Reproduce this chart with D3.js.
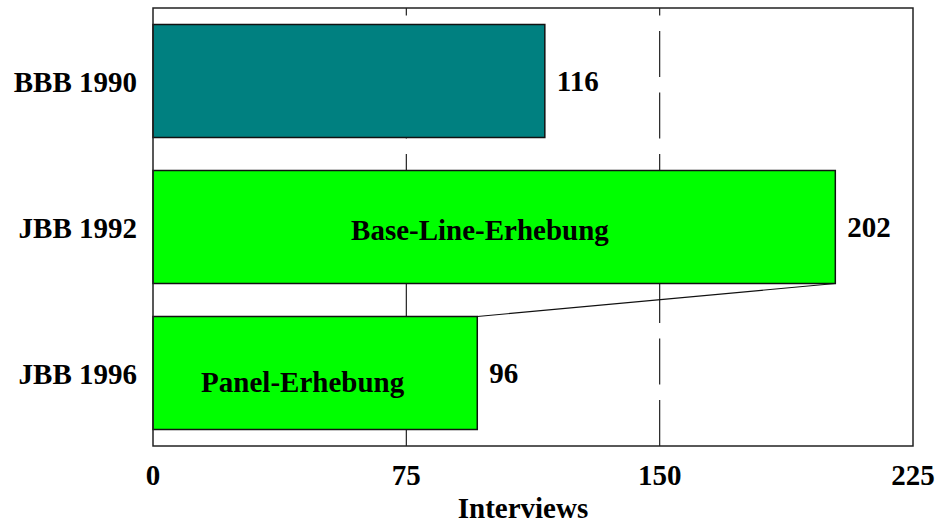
<!DOCTYPE html>
<html>
<head>
<meta charset="utf-8">
<script src="https://cdn.jsdelivr.net/npm/d3@7"></script>
<style>
  body { margin: 0; background: #fff; }
  text { font-family: "Liberation Serif", "Times New Roman", serif; font-weight: bold; fill: #000; }
</style>
</head>
<body>
<div class="chart"></div>
<script>
const categories = ["BBB 1990", "JBB 1992", "JBB 1996"]
const interviews = [116, 202, 96]
const barColors = ["#008080", "#00ff00", "#00ff00"]
const xTicks = [0, 75, 150, 225]
const gridTicks = [75, 150]
// labels inside bars: [category, text, x position in data units]
const barNotes = [
  ["JBB 1992", "Base-Line-Erhebung", 96.8],
  ["JBB 1996", "Panel-Erhebung", 44.3]
]

const width = 937
const height = 524
const margin = {top: 8, right: 24, bottom: 78, left: 153}

const svg = d3.select('.chart')
  .append('svg')
  .attr("width", width)
  .attr("height", height)

const x = d3.scaleLinear()
  .domain([0, 225])
  .range([margin.left, width - margin.right])

const y = d3.scaleBand()
  .domain(categories)
  .range([margin.top, height - margin.bottom])
  .paddingInner(0.226)
  .paddingOuter(0.113)

const y0 = margin.top, y1 = height - margin.bottom

// dashed grid, pattern starts at the bottom
svg.selectAll("line.grid")
  .data(gridTicks)
  .join("line")
  .attr("class", "grid")
  .attr("x1", d => x(d)).attr("x2", d => x(d))
  .attr("y1", y1).attr("y2", y0)
  .attr("stroke", "#222")
  .attr("stroke-width", 1.2)
  .attr("stroke-dasharray", "46,15.5")

const data = categories.map((c, i) => ({cat: c, value: interviews[i], color: barColors[i]}))

svg.selectAll("rect.bar")
  .data(data)
  .join("rect")
  .attr("class", "bar")
  .attr("x", x(0))
  .attr("y", d => y(d.cat))
  .attr("width", d => x(d.value) - x(0))
  .attr("height", y.bandwidth())
  .attr("fill", d => d.color)
  .attr("stroke", "#111")
  .attr("stroke-width", 1.5)

// connector from panel bar to base-line bar
svg.append("line")
  .attr("x1", x(interviews[2])).attr("y1", y(categories[2]))
  .attr("x2", x(interviews[1])).attr("y2", y(categories[1]) + y.bandwidth())
  .attr("stroke", "#111")
  .attr("stroke-width", 1.2)

// frame
svg.append("rect")
  .attr("x", x(0)).attr("y", y0)
  .attr("width", x(225) - x(0)).attr("height", y1 - y0)
  .attr("fill", "none")
  .attr("stroke", "#222")
  .attr("stroke-width", 1.5)

// value labels
svg.selectAll("text.val")
  .data(data)
  .join("text")
  .attr("class", "val")
  .attr("x", d => x(d.value) + 12)
  .attr("y", d => y(d.cat) + y.bandwidth() / 2 + 10)
  .attr("font-size", 29)
  .text(d => d.value)

// notes inside bars
svg.selectAll("text.note")
  .data(barNotes)
  .join("text")
  .attr("class", "note")
  .attr("x", d => x(d[2]))
  .attr("y", (d, i) => y(d[0]) + y.bandwidth() / 2 + (i === 0 ? 12.6 : 18.7))
  .attr("text-anchor", "middle")
  .attr("font-size", 29)
  .text(d => d[1])

// category labels
svg.selectAll("text.cat")
  .data(categories)
  .join("text")
  .attr("class", "cat")
  .attr("x", x(0) - 16)
  .attr("y", d => y(d) + y.bandwidth() / 2 + 11)
  .attr("text-anchor", "end")
  .attr("font-size", 29)
  .text(d => d)

// x tick labels
svg.selectAll("text.tick")
  .data(xTicks)
  .join("text")
  .attr("class", "tick")
  .attr("x", d => x(d))
  .attr("y", 485)
  .attr("text-anchor", "middle")
  .attr("font-size", 29)
  .text(d => d)

svg.append("text")
  .attr("x", 523)
  .attr("y", 518)
  .attr("text-anchor", "middle")
  .attr("font-size", 29)
  .text("Interviews")
</script>
</body>
</html>
